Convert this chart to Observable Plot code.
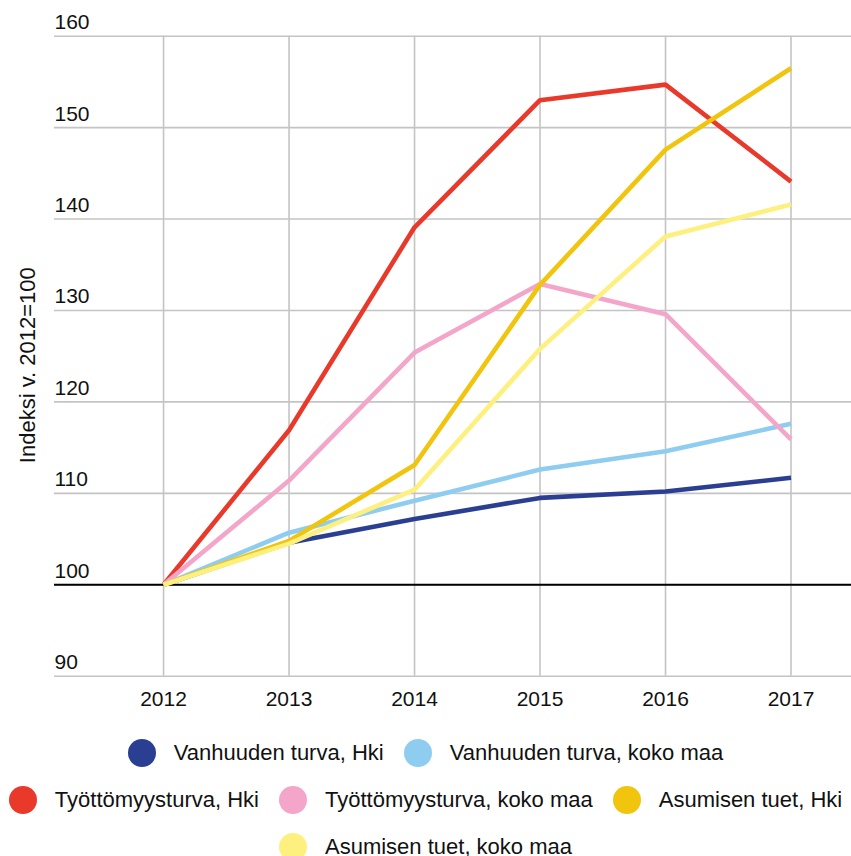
<!DOCTYPE html>
<html>
<head>
<meta charset="utf-8">
<script src="https://cdn.jsdelivr.net/npm/d3@7"></script>
<script src="https://cdn.jsdelivr.net/npm/@observablehq/plot@0.6"></script>
<style>
  html, body { margin: 0; padding: 0; background: #fff; }
  body { width: 851px; font-family: "Liberation Sans", Arial, sans-serif; color: #111; }
  #legend { padding-top: 10px; }
  .row { display: flex; justify-content: center; align-items: center; height: 46px; margin-bottom: 1px; white-space: nowrap; }
  .item { display: flex; align-items: center; margin: 0 10px; font-size: 22px; }
  .sw { width: 28px; height: 28px; border-radius: 50%; margin-right: 18px; flex: none; }
</style>
</head>
<body>
<div id="chart"></div>
<div id="legend"></div>
<script>
const years = [2012, 2013, 2014, 2015, 2016, 2017];
const seriesNames = [
  "Vanhuuden turva, Hki",
  "Vanhuuden turva, koko maa",
  "Työttömyysturva, Hki",
  "Työttömyysturva, koko maa",
  "Asumisen tuet, Hki",
  "Asumisen tuet, koko maa"
];
const vanhuusHki = [100, 104.6, 107.2, 109.5, 110.2, 111.7];
const vanhuusKoko = [100, 105.7, 109.2, 112.6, 114.6, 117.6];
const tyottomyysHki = [100, 116.9, 139.1, 153.0, 154.7, 144.1];
const tyottomyysKoko = [100, 111.4, 125.4, 132.9, 129.6, 115.9];
const asuminenHki = [100, 104.8, 113.1, 132.8, 147.6, 156.5];
const asuminenKoko = [100, 104.5, 110.4, 125.8, 138.1, 141.6];
const seriesColors = ["#2b3f92", "#8ecdf0", "#e8392a", "#f3a6c9", "#f1c40e", "#fef07f"];
const yTicks = [90, 100, 110, 120, 130, 140, 150, 160];
const yLabel = "Indeksi v. 2012=100";
const legendRows = [[0, 1], [2, 3, 4], [5]];

const seriesValues = [vanhuusHki, vanhuusKoko, tyottomyysHki, tyottomyysKoko, asuminenHki, asuminenKoko];
const data = [];
seriesValues.forEach((vals, si) => {
  vals.forEach((v, i) => data.push({series: seriesNames[si], year: years[i], value: v}));
});

const chart = Plot.plot({
  width: 851,
  height: 720,
  marginLeft: 54,
  marginRight: 0,
  marginTop: 35.7,
  marginBottom: 44.3,
  style: {fontFamily: "'Liberation Sans', Arial, sans-serif", color: "#111", background: "#fff"},
  x: {domain: [2011.131, 2017.482], axis: null},
  y: {domain: [90, 160], axis: null},
  color: {domain: seriesNames, range: seriesColors},
  marks: [
    Plot.ruleY(yTicks, {stroke: "#c4c4c4", strokeWidth: 1.6}),
    Plot.ruleX(years, {y1: 90, y2: 160, stroke: "#c4c4c4", strokeWidth: 1.6}),
    Plot.ruleY([100], {stroke: "#000", strokeWidth: 2}),
    Plot.axisX(years, {tickSize: 0, tickPadding: 15, tickFormat: d => String(d), fontSize: 21, fill: "#111", label: null}),
    Plot.text(yTicks, {y: d => d, text: d => String(d), frameAnchor: "left", textAnchor: "start", lineAnchor: "bottom", dy: -7, fontSize: 21, fill: "#111"}),
    Plot.text([yLabel], {text: d => d, frameAnchor: "left", textAnchor: "middle", lineAnchor: "middle", dx: -27, dy: 9, rotate: -90, fontSize: 22, fill: "#111"}),
    Plot.line(data, {x: "year", y: "value", z: "series", stroke: "series", strokeWidth: 4.6, strokeLinejoin: "miter", strokeLinecap: "butt"})
  ]
});
document.getElementById("chart").appendChild(chart);

const legend = document.getElementById("legend");
legendRows.forEach(row => {
  const r = document.createElement("div");
  r.className = "row";
  row.forEach(i => {
    const it = document.createElement("div");
    it.className = "item";
    const sw = document.createElement("span");
    sw.className = "sw";
    sw.style.background = seriesColors[i];
    const t = document.createElement("span");
    t.textContent = seriesNames[i];
    it.appendChild(sw);
    it.appendChild(t);
    r.appendChild(it);
  });
  legend.appendChild(r);
});
</script>
</body>
</html>
